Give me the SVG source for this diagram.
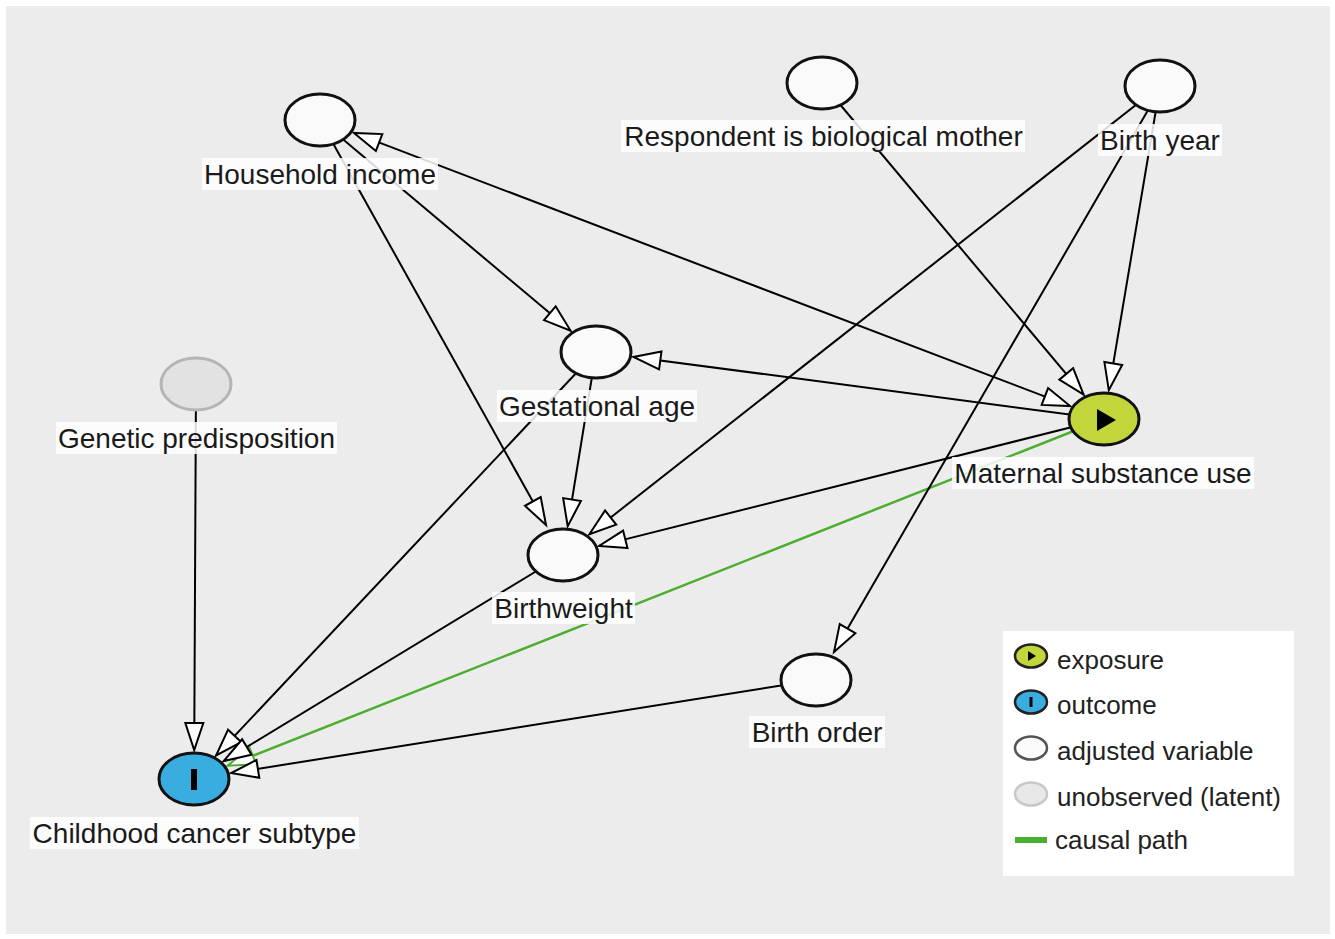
<svg xmlns="http://www.w3.org/2000/svg" width="1335" height="939" viewBox="0 0 1335 939">
<style>
.edge{stroke:#000;stroke-width:2;fill:none;marker-end:url(#ah)}
.causal{stroke:#4cae30;stroke-width:2.5;fill:none;marker-end:url(#ahg)}
.node{fill:#fafafa;stroke:#111;stroke-width:3}
.latent{fill:#e2e2e2;stroke:#b5b5b5;stroke-width:3}
.expo{fill:#c2d63c;stroke:#111;stroke-width:3}
.outc{fill:#3aade0;stroke:#111;stroke-width:3}
.lblbg{fill:#fff;fill-opacity:0.85}
.lbl{font-family:"Liberation Sans",Arial,sans-serif;font-size:28px;fill:#1a1a1a;text-anchor:middle}
.leg{font-family:"Liberation Sans",Arial,sans-serif;font-size:26px;fill:#222}
</style>
<defs>
<marker id="ah" markerUnits="userSpaceOnUse" markerWidth="34" markerHeight="24" viewBox="0 0 34 24" refX="29" refY="12" orient="auto"><path d="M2,3 L29,12 L2,21 Z" fill="#fff" stroke="#000" stroke-width="2"/></marker>
<marker id="ahs" markerUnits="userSpaceOnUse" markerWidth="34" markerHeight="24" viewBox="0 0 34 24" refX="29" refY="12" orient="auto-start-reverse"><path d="M2,3 L29,12 L2,21 Z" fill="#fff" stroke="#000" stroke-width="2"/></marker>
<marker id="ahg" markerUnits="userSpaceOnUse" markerWidth="34" markerHeight="24" viewBox="0 0 34 24" refX="29" refY="12" orient="auto"><path d="M2,3 L29,12 L2,21 Z" fill="#fff" stroke="#4cae30" stroke-width="2"/></marker>
</defs>
<rect x="0" y="0" width="1335" height="939" fill="#fff"/>
<rect x="6" y="6" width="1324" height="928" fill="#ececec"/>
<g id="connectors">
<line class="causal" x1="1104" y1="419" x2="227.7" y2="765.7"/>
<line class="edge" x1="320" y1="120" x2="570.5" y2="330.6"/>
<line class="edge" x1="320" y1="120" x2="546" y2="525"/>
<line class="edge" x1="353.9" y1="132.9" x2="1070.1" y2="406.1" marker-start="url(#ahs)"/>
<line class="edge" x1="1104" y1="419" x2="633.5" y2="356.9"/>
<line class="edge" x1="1104" y1="419" x2="599.1" y2="545.9"/>
<line class="edge" x1="1160" y1="86" x2="589.4" y2="534.2"/>
<line class="edge" x1="1160" y1="86" x2="1108.8" y2="390.2"/>
<line class="edge" x1="1162" y1="86" x2="834" y2="652"/>
<line class="edge" x1="822" y1="83" x2="1083.6" y2="394.6"/>
<line class="edge" x1="596" y1="352" x2="567.7" y2="526.2"/>
<line class="edge" x1="596" y1="352" x2="216.1" y2="755.5"/>
<line class="edge" x1="563" y1="555" x2="223.7" y2="761"/>
<line class="edge" x1="816" y1="680" x2="231.2" y2="773.1"/>
<line class="edge" x1="196" y1="384" x2="194.2" y2="750"/>
</g>
<g id="household-income">
<ellipse class="node" cx="320" cy="120" rx="35" ry="26"/>
<rect class="lblbg" x="202" y="158" width="236" height="32"/>
<text class="lbl" x="320" y="184">Household income</text>
</g>
<g id="respondent">
<ellipse class="node" cx="822" cy="83" rx="35" ry="26"/>
<rect class="lblbg" x="621" y="120" width="404" height="32"/>
<text class="lbl" x="823.5" y="146">Respondent is biological mother</text>
</g>
<g id="birth-year">
<ellipse class="node" cx="1160" cy="86" rx="35" ry="26"/>
<rect class="lblbg" x="1098" y="124" width="124" height="32"/>
<text class="lbl" x="1160" y="150">Birth year</text>
</g>
<g id="gestational-age">
<ellipse class="node" cx="596" cy="352" rx="35" ry="26"/>
<rect class="lblbg" x="497" y="390" width="200" height="32"/>
<text class="lbl" x="597" y="416">Gestational age</text>
</g>
<g id="genetic-predisposition">
<ellipse class="latent" cx="196" cy="384" rx="35" ry="26"/>
<rect class="lblbg" x="56" y="422" width="281" height="32"/>
<text class="lbl" x="196.5" y="448">Genetic predisposition</text>
</g>
<g id="maternal-substance-use">
<ellipse class="expo" cx="1104" cy="419" rx="35" ry="26"/>
<path d="M1097,409 L1116,420 L1097,431 Z" fill="#000"/>
<rect class="lblbg" x="952" y="457" width="302" height="32"/>
<text class="lbl" x="1103" y="483">Maternal substance use</text>
</g>
<g id="birthweight">
<ellipse class="node" cx="563" cy="555" rx="35" ry="26"/>
<rect class="lblbg" x="492" y="592" width="143" height="32"/>
<text class="lbl" x="563.5" y="618">Birthweight</text>
</g>
<g id="birth-order">
<ellipse class="node" cx="816" cy="680" rx="35" ry="26"/>
<rect class="lblbg" x="749" y="716" width="136" height="32"/>
<text class="lbl" x="817" y="742">Birth order</text>
</g>
<g id="childhood-cancer-subtype">
<ellipse class="outc" cx="194" cy="779" rx="35" ry="26"/>
<rect x="191" y="769" width="6" height="21" fill="#000"/>
<rect class="lblbg" x="30" y="817" width="329" height="32"/>
<text class="lbl" x="194.5" y="843">Childhood cancer subtype</text>
</g>
<g id="legend">
<rect x="1003" y="631" width="291" height="245" fill="#fff"/>
<ellipse cx="1031" cy="656" rx="16" ry="11.5" fill="#c2d63c" stroke="#222" stroke-width="2.5"/>
<path d="M1028,651 L1036,656 L1028,661 Z" fill="#000"/>
<text class="leg" x="1057" y="669">exposure</text>
<ellipse cx="1031" cy="702" rx="16" ry="11.5" fill="#3aade0" stroke="#222" stroke-width="2.5"/>
<rect x="1029.5" y="697" width="3" height="10" fill="#000"/>
<text class="leg" x="1057" y="714">outcome</text>
<ellipse cx="1031" cy="748" rx="16" ry="11.5" fill="#fafafa" stroke="#555" stroke-width="2.5"/>
<text class="leg" x="1057" y="760">adjusted variable</text>
<ellipse cx="1031" cy="794" rx="16" ry="11.5" fill="#e8e8e8" stroke="#c8c8c8" stroke-width="2.5"/>
<text class="leg" x="1057" y="806">unobserved (latent)</text>
<rect x="1015" y="837" width="32" height="6" fill="#4cae30"/>
<text class="leg" x="1055" y="849">causal path</text>
</g>
</svg>
